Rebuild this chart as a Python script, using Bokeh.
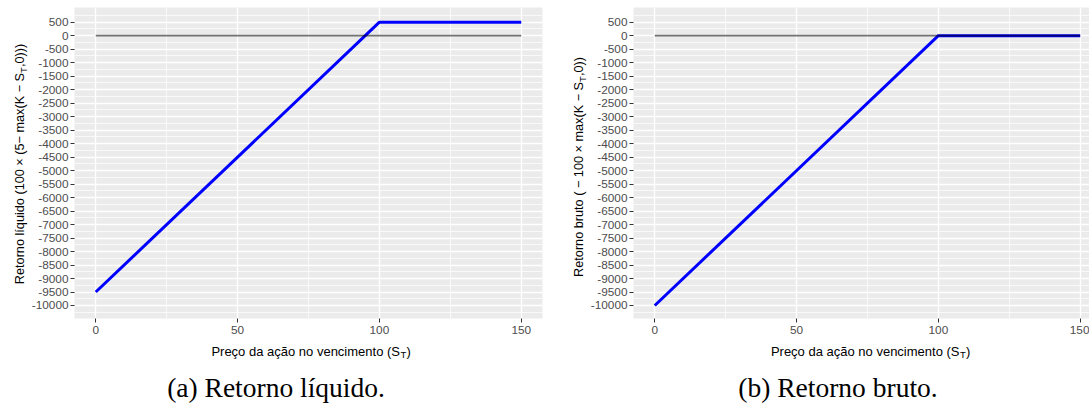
from bokeh.plotting import figure
from bokeh.layouts import row, column
from bokeh.models import Range1d, FixedTicker, Label, Div
from bokeh.embed import file_html
from bokeh.resources import INLINE

# ---------------- data ----------------
preco = [0, 100, 150]                      # S_T
retorno_liquido = [-9500, 500, 500]        # 100*(5 - max(K - S_T, 0))
retorno_bruto = [-10000, 0, 0]             # -100*max(K - S_T, 0)
ref_x = [0, 150]
ref_y = [0, 0]

x_ticks = [0, 50, 100, 150]
x_minor = [25, 75, 125]
x_labels = ["0", "50", "100", "150"]
y_ticks = [500, 0, -500, -1000, -1500, -2000, -2500, -3000, -3500, -4000, -4500,
           -5000, -5500, -6000, -6500, -7000, -7500, -8000, -8500, -9000, -9500, -10000]
y_labels = ["500", "0", "-500", "-1000", "-1500", "-2000", "-2500", "-3000", "-3500",
            "-4000", "-4500", "-5000", "-5500", "-6000", "-6500", "-7000", "-7500",
            "-8000", "-8500", "-9000", "-9500", "-10000"]
y_minor = [750] + [t - 250 for t in y_ticks]

captions = ["(a) Retorno líquido.", "(b) Retorno bruto."]
ylab_main = ["Retorno líquido (100 \u00d7 (5\u2212 max(K \u2212 S",
             "Retorno bruto ( \u2212 100 \u00d7 max(K \u2212 S"]
ylab_tail = [",0)))", ",0))"]
xlab_main = "Preço da ação no vencimento (S"
xlab_tail = ")"

# ---------------- geometry (content px from top-left) ----------------
Y0, Y1 = -10482, 1045
FRAME_TOP = 7
FRAME_H = 311
PLOT_H = 338               # top border + frame + x tick labels
XT_H = 25                  # x-title strip
CAP_H = 410 - PLOT_H - XT_H
PPU_X = 470 / 165.0
X0 = -7.5

SANS = "Liberation Sans"
SERIF = "Liberation Serif"


def strip(width, height):
    s = figure(width=width, height=height, output_backend="svg", toolbar_location=None,
               x_range=Range1d(0, width), y_range=Range1d(0, height),
               x_axis_type=None, y_axis_type=None,
               min_border_left=0, min_border_right=0, min_border_top=0, min_border_bottom=0)
    s.background_fill_color = "white"
    s.border_fill_color = "white"
    s.outline_line_color = None
    return s


def lab(s, x, y_from_top, text, size, font=SANS, align="left"):
    s.add_layout(Label(x=x, y=s.height - y_from_top, text=text,
                       text_align=align, text_baseline="alphabetic",
                       text_font=font, text_font_size=size, text_color="black"))


def make_plot(width, left_border, right_border, values):
    frame_w = width - left_border - right_border
    x1 = X0 + frame_w / PPU_X
    p = figure(width=width, height=PLOT_H, output_backend="svg", toolbar_location=None,
               x_range=Range1d(X0, x1), y_range=Range1d(Y0, Y1),
               min_border_left=left_border, min_border_right=right_border,
               min_border_top=FRAME_TOP, min_border_bottom=PLOT_H - FRAME_H - FRAME_TOP)
    p.background_fill_color = "#EBEBEB"
    p.border_fill_color = "white"
    p.outline_line_color = None

    p.xaxis.ticker = FixedTicker(ticks=x_ticks, minor_ticks=x_minor)
    p.yaxis.ticker = FixedTicker(ticks=y_ticks, minor_ticks=y_minor)
    p.xaxis.major_label_overrides = {t: l for t, l in zip(x_ticks, x_labels)}
    p.yaxis.major_label_overrides = {t: l for t, l in zip(y_ticks, y_labels)}
    for ax in (p.xaxis, p.yaxis):
        ax.axis_line_color = None
        ax.minor_tick_line_color = None
        ax.major_tick_in = 0
        ax.major_tick_out = 4
        ax.major_tick_line_color = "#333333"
        ax.major_label_text_font = SANS
        ax.major_label_text_font_size = "11.8px"
        ax.major_label_text_color = "#4D4D4D"
    p.xaxis.major_label_standoff = 3
    p.yaxis.major_label_standoff = 2

    for g in (p.xgrid, p.ygrid):
        g.grid_line_color = "white"
        g.grid_line_width = 1.3
        g.minor_grid_line_color = "white"
        g.minor_grid_line_width = 0.7

    p.line(preco, values, line_color="#0000FF", line_width=3)
    p.line(ref_x, ref_y, line_color="black", line_alpha=0.55, line_width=1.7)
    return p


def ytitle_div(idx, strip_w, base_x, center_y):
    # rotated HTML text: baseline at base_x, centred vertically on center_y
    box_w = 320
    html = (
        f'<div style="position:relative; left:{base_x - 10.75:.2f}px; top:{center_y + box_w / 2:.2f}px; '
        f'width:{box_w}px; text-align:center; transform-origin:0 0; transform:rotate(-90deg); '
        f'white-space:nowrap; font-family:\'{SANS}\'; font-size:12.7px; line-height:12.7px; '
        f'color:black; margin:0; padding:0;">'
        f'{ylab_main[idx]}<span style="font-size:9.5px; vertical-align:-3px; line-height:0;">T</span>'
        f'{ylab_tail[idx]}</div>'
    )
    return Div(text=html, width=strip_w, height=PLOT_H,
               styles={"margin": "0", "padding": "0", "overflow": "visible"})


def panel(idx, values, x_start, strip_w, plot_w, right_border, ylab_base, ylab_center,
          xtitle_junction, caption_center):
    ys = ytitle_div(idx, strip_w, ylab_base - x_start, ylab_center)
    p = make_plot(plot_w, 44, right_border, values)

    # x title strip (top at content y PLOT_H)
    w = strip_w + plot_w
    xs = strip(w, XT_H)
    xj = xtitle_junction - x_start
    lab(xs, xj, 351 - PLOT_H, xlab_main, "13px", align="right")
    lab(xs, xj + 0.5, 354 - PLOT_H, "T", "9.5px", align="left")
    lab(xs, xj + 6.5, 351 - PLOT_H, xlab_tail, "13px", align="left")

    # caption as HTML text, centred on caption_center
    cap_w = 2 * min(caption_center - x_start, w - (caption_center - x_start))
    cap_left = caption_center - x_start - cap_w / 2
    cap = Div(text=captions[idx], width=w, height=CAP_H,
              styles={"font-family": SERIF, "font-size": "27.5px", "line-height": "27.5px",
                      "color": "black", "box-sizing": "border-box",
                      "padding-top": "11px", "padding-left": f"{cap_left:.0f}px",
                      "width": f"{cap_left + cap_w:.0f}px", "text-align": "center",
                      "white-space": "nowrap", "margin": "0"})
    return column(row(ys, p), xs, cap)


# left panel: content x 0..560; frame 72..542
left = panel(0, retorno_liquido, 0, 28, 532, 18,
             ylab_base=24.5, ylab_center=161.5,
             xtitle_junction=399.5, caption_center=276)
# right panel: content x 560..1089; frame 631..1089
right = panel(1, retorno_bruto, 560, 27, 502, 0,
              ylab_base=583.5, ylab_center=165,
              xtitle_junction=959, caption_center=838)

layout = row(left, right)
open("out.html", "w").write(file_html(layout, INLINE))
